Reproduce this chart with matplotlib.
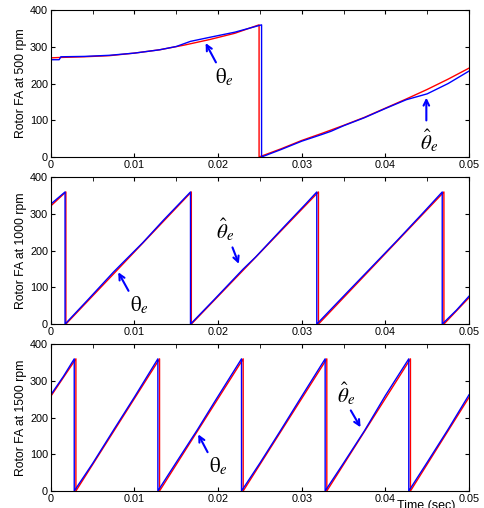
import numpy as np
import matplotlib
matplotlib.use("Agg")
import matplotlib.pyplot as plt
from matplotlib.ticker import MultipleLocator

plt.rcParams['font.family'] = ['Liberation Sans', 'DejaVu Sans']
plt.rcParams['mathtext.fontset'] = 'stix'

# ---- data (time in s, angle in deg) ----
# 500 rpm
t500_ref = [0, 0.001, 0.004, 0.007, 0.01, 0.013, 0.016, 0.019, 0.022, 0.0249, 0.0249,
            0.0275, 0.03, 0.0325, 0.035, 0.0375, 0.04, 0.0425, 0.045, 0.0475, 0.05]
a500_ref = [270, 271, 273, 276, 283, 292, 305, 320, 337, 360, 0,
            22, 45, 65, 86, 108, 133, 158, 184, 212, 242]
t500_est = [0, 0.001, 0.0012, 0.004, 0.007, 0.01, 0.013, 0.015, 0.0167, 0.019, 0.022, 0.0252, 0.0252,
            0.0275, 0.03, 0.0325, 0.0335, 0.035, 0.0375, 0.04, 0.0425, 0.045, 0.0475, 0.05]
a500_est = [265, 265, 273, 274, 277, 283, 292, 301, 315, 326, 340, 360, 0,
            20, 43, 62, 70, 85, 107, 132, 156, 172, 200, 234]

# 1000 rpm
t1000_ref = [0, 0.0018, 0.0018, 0.0168, 0.0168, 0.032, 0.032, 0.047, 0.047, 0.05]
a1000_ref = [322, 360, 0, 360, 0, 360, 0, 360, 0, 72]
t1000_est = [0, 0.0017, 0.0017, 0.0045, 0.0075, 0.0085, 0.011, 0.0135, 0.0167, 0.0167,
             0.0195, 0.023, 0.0245, 0.028, 0.0305, 0.0318, 0.0318, 0.0355, 0.038, 0.0415,
             0.0445, 0.0468, 0.0468, 0.0485, 0.05]
a1000_est = [327, 360, 0, 68, 142, 165, 222, 284, 360, 0,
             66, 150, 183, 268, 328, 360, 0, 88, 147, 230, 303, 360, 0, 38, 76]

# 1500 rpm
t1500_ref = [0, 0.003, 0.003, 0.013, 0.013, 0.023, 0.023, 0.033, 0.033, 0.043, 0.043, 0.05]
a1500_ref = [258, 360, 0, 360, 0, 360, 0, 360, 0, 360, 0, 255]
t1500_est = [0, 0.0015, 0.0028, 0.0028, 0.005, 0.0075, 0.01, 0.0128, 0.0128, 0.015, 0.0175,
             0.0195, 0.0228, 0.0228, 0.025, 0.0275, 0.03, 0.0328, 0.0328, 0.035, 0.0375,
             0.04, 0.0428, 0.0428, 0.045, 0.0475, 0.05]
a1500_est = [262, 312, 360, 0, 75, 166, 256, 360, 0, 78, 166, 240, 360, 0, 76, 166, 258, 360,
             0, 76, 164, 260, 360, 0, 78, 168, 262]

ylabels = ['Rotor FA at 500 rpm', 'Rotor FA at 1000 rpm', 'Rotor FA at 1500 rpm']
xticks = [0, 0.01, 0.02, 0.03, 0.04, 0.05]
xticklabels = ['0', '0.01', '0.02', '0.03', '0.04', '0.05']
series = [(t500_ref, a500_ref, t500_est, a500_est),
          (t1000_ref, a1000_ref, t1000_est, a1000_est),
          (t1500_ref, a1500_ref, t1500_est, a1500_est)]

TH = r'$\mathrm{\theta}_e$'
TH_HAT = r'$\hat{\theta}_e$'
# (label, text xy, arrow tail xy, arrow head xy) per panel
notes = [
    [(TH, (0.0207, 217), (0.0199, 251), (0.01835, 317)),
     (TH_HAT, (0.0452, 45), (0.0449, 92), (0.0449, 169))],
    [(TH, (0.0106, 53), (0.00945, 84), (0.0079, 148)),
     (TH_HAT, (0.0208, 257), (0.0216, 216), (0.0226, 157))],
    [(TH, (0.0200, 68), (0.0189, 99), (0.01747, 161)),
     (TH_HAT, (0.0353, 266), (0.0357, 226), (0.0372, 167))],
]

fig = plt.figure(figsize=(4.84, 5.08), dpi=100)
bottoms = [0.691, 0.362, 0.0335]

for i in range(3):
    ax = fig.add_axes([0.105, bottoms[i], 0.864, 0.289])
    tr, ar, te, ae = series[i]
    ax.plot(tr, ar, color='red', lw=1.0)
    ax.plot(te, ae, color='blue', lw=1.0)
    ax.set_xlim(0, 0.05)
    ax.set_ylim(0, 400)
    ax.set_xticks(xticks)
    ax.set_xticklabels(xticklabels)
    ax.xaxis.set_minor_locator(MultipleLocator(0.005))
    ax.yaxis.set_major_locator(MultipleLocator(100))
    ax.tick_params(direction='in', top=True, right=True, labelsize=7.8, length=3, pad=2)
    ax.tick_params(which='minor', direction='in', bottom=False, top=True, length=3)
    ax.set_ylabel(ylabels[i], fontsize=8.8, labelpad=2)
    for sp in ax.spines.values():
        sp.set_linewidth(0.8)
    for lab, txy, tail, head in notes[i]:
        ax.annotate('', xy=head, xytext=tail,
                    arrowprops=dict(arrowstyle='->', color='blue', lw=1.5))
        ax.text(txy[0], txy[1], lab, fontsize=15, ha='center', va='center')

fig.text(0.82, -0.008, 'Time (sec)', fontsize=9, ha='left', va='bottom')

fig.savefig('out.png', dpi=100)
